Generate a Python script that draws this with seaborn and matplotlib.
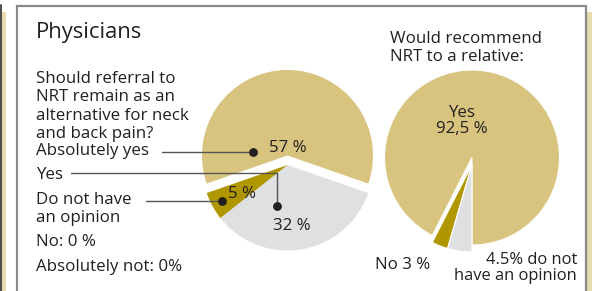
import matplotlib
matplotlib.use("Agg")
import matplotlib.pyplot as plt
import seaborn as sns

# ---------------- data ----------------
left_categories = ["Absolutely yes", "Yes", "Do not have an opinion"]
left_values = [57, 32, 5]
left_labels = ["57 %", "32 %", "5 %"]
left_extra = ["No: 0 %", "Absolutely not: 0%"]

right_categories = ["Yes", "No", "Do not have an opinion"]
right_values = [92.5, 3, 4.5]

# ---------------- style ----------------
GOLD = "#d8c47f"
DARK_GOLD = "#b09700"
GREY = "#dfe0e2"
TEXT = "#231f20"
left_colors = [GOLD, GREY, DARK_GOLD]
right_colors = [GOLD, DARK_GOLD, GREY]
FS = 12.2

sns.set_style("white")
plt.rcParams["font.family"] = ["Open Sans", "DejaVu Sans"]

W, H = 592, 291
fig = plt.figure(figsize=(W / 100, H / 100), dpi=100)
ax = fig.add_axes([0, 0, 1, 1])


def Y(y):
    return H - y


def txt(x, y, s, ha="left", fs=FS):
    ax.text(x, Y(y), s, fontsize=fs, color=TEXT, ha=ha, va="baseline")


# ---------------- frame ----------------
ax.add_patch(plt.Rectangle((1.5, 0), 4.5, Y(12), color="#e6dcae", lw=0, zorder=0))
ax.plot([0.5, 0.5], [0, Y(5)], color="#2a2a2a", lw=1.2, zorder=1)
ax.add_patch(plt.Rectangle((587, 0), 5, Y(12), color="#e6dcae", lw=0, zorder=0))
ax.plot([17, 17, 585.5, 585.5], [0, Y(5.5), Y(5.5), 0], color="#8a8a8a", lw=1.6,
        solid_joinstyle="miter", zorder=1)

# ---------------- left pie ----------------
lcx, lcy, lr = 287.5, Y(155.5), 85.5
start_l = 90 + 0.5 * left_values[0] / sum(left_values) * 360
wl, _ = ax.pie(left_values, colors=left_colors, startangle=start_l, counterclock=False,
               center=(lcx, lcy), radius=lr, wedgeprops=dict(linewidth=0))
for w in wl[1:]:
    w.set_center((lcx, lcy - 9.5))

txt(288, 151.5, left_labels[0], ha="center")
txt(292, 230, left_labels[1], ha="center")
txt(242, 197.5, left_labels[2], ha="center")

# leader lines and dots
lc = "#555555"
ax.plot([162, 253], [Y(152), Y(152)], color=lc, lw=1.0)
ax.plot([71, 277, 277], [Y(173), Y(173), Y(206)], color=lc, lw=1.0)
ax.plot([146, 222], [Y(201), Y(201)], color=lc, lw=1.0)
ax.scatter([253, 277, 222], [Y(152), Y(206), Y(201)], s=40, color=TEXT, zorder=5,
           linewidths=0)

# left texts
txt(36, 38.3, "Physicians", fs=15.8)
for yy, s in zip([83, 101.3, 119.6, 137.8],
                 ["Should referral to", "NRT remain as an", "alternative for neck",
                  "and back pain?"]):
    txt(36, yy, s)
txt(36, 155, left_categories[0])
txt(36, 179, left_categories[1])
txt(36, 204.3, "Do not have")
txt(36, 221.7, "an opinion")
txt(36, 246, left_extra[0])
txt(36, 271, left_extra[1])

# ---------------- right pie ----------------
rcx, rcy, rr = 472, Y(157.5), 87.5
wr, _ = ax.pie(right_values, colors=right_colors, startangle=270, counterclock=True,
               center=(rcx, rcy), radius=rr,
               wedgeprops=dict(linewidth=0.8, edgecolor="white"))
for w in wr[1:]:
    w.set_center((rcx, rcy - 7))

txt(390, 43.3, "Would recommend")
txt(390, 60.7, "NRT to a relative:")
txt(461.5, 116.7, "Yes", ha="center")
txt(461.5, 133.3, "92,5 %", ha="center")
txt(375, 269, "No 3 %")
txt(577, 264.5, "4.5% do not", ha="right", fs=11.9)
txt(577, 280.5, "have an opinion", ha="right", fs=11.9)

ax.set_xlim(0, W)
ax.set_ylim(0, H)
ax.set_aspect("auto")
ax.axis("off")
fig.savefig("out.png", dpi=100)
